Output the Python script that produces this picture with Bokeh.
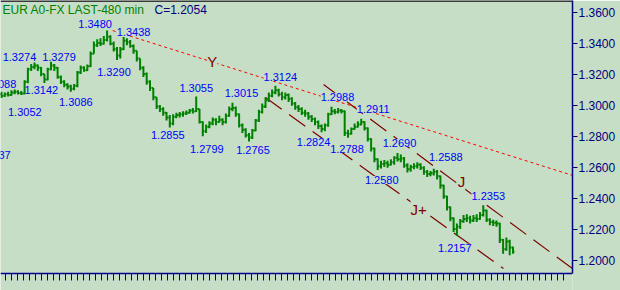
import numpy as np
from bokeh.plotting import figure
from bokeh.models import Range1d, FixedTicker, PrintfTickFormatter, ColumnDataSource, Span
from bokeh.core.properties import value
from bokeh.embed import file_html
from bokeh.resources import INLINE

# ---------------- data ----------------
openp = [1.3070, 1.3060, 1.3070, 1.3065, 1.3080, 1.3085, 1.3078, 1.3075, 1.3150, 1.3230,
         1.3245, 1.3255, 1.3240, 1.3200, 1.3165, 1.3230, 1.3255, 1.3240, 1.3180, 1.3150,
         1.3130, 1.3120, 1.3105, 1.3125, 1.3210, 1.3240, 1.3225, 1.3250, 1.3330, 1.3385,
         1.3400, 1.3395, 1.3420, 1.3440, 1.3395, 1.3360, 1.3320, 1.3360, 1.3415, 1.3405,
         1.3380, 1.3350, 1.3300, 1.3240, 1.3200, 1.3150, 1.3110, 1.3050, 1.2990, 1.2975,
         1.2950, 1.2920, 1.2880, 1.2925, 1.2935, 1.2940, 1.2945, 1.2950, 1.2965, 1.2960,
         1.2975, 1.2890, 1.2830, 1.2860, 1.2880, 1.2905, 1.2890, 1.2905, 1.2890, 1.2930,
         1.2975, 1.2980, 1.2940, 1.2870, 1.2840, 1.2805, 1.2790, 1.2835, 1.2900, 1.2955,
         1.2990, 1.3030, 1.3060, 1.3080, 1.3095, 1.3070, 1.3050, 1.3065, 1.3040, 1.3010,
         1.2985, 1.2975, 1.2950, 1.2945, 1.2925, 1.2910, 1.2890, 1.2865, 1.2845, 1.2870,
         1.2940, 1.2960, 1.2955, 1.2965, 1.2960, 1.2820, 1.2815, 1.2845, 1.2860, 1.2875,
         1.2890, 1.2850, 1.2780, 1.2720, 1.2650, 1.2605, 1.2620, 1.2625, 1.2615, 1.2630,
         1.2660, 1.2650, 1.2655, 1.2610, 1.2585, 1.2600, 1.2605, 1.2615, 1.2595, 1.2570,
         1.2555, 1.2560, 1.2570, 1.2540, 1.2480, 1.2410, 1.2340, 1.2270, 1.2200, 1.2215,
         1.2250, 1.2265, 1.2270, 1.2255, 1.2270, 1.2265, 1.2290, 1.2320, 1.2260, 1.2245,
         1.2240, 1.2235, 1.2130, 1.2070, 1.2120, 1.2080]
high = [1.3085, 1.3080, 1.3085, 1.3095, 1.3100, 1.3095, 1.3090, 1.3160, 1.3240, 1.3265,
        1.3274, 1.3262, 1.3245, 1.3200, 1.3240, 1.3279, 1.3265, 1.3245, 1.3190, 1.3160,
        1.3140, 1.3130, 1.3135, 1.3220, 1.3255, 1.3250, 1.3262, 1.3345, 1.3410, 1.3425,
        1.3430, 1.3445, 1.3480, 1.3450, 1.3410, 1.3375, 1.3375, 1.3438, 1.3430, 1.3420,
        1.3390, 1.3350, 1.3300, 1.3250, 1.3210, 1.3160, 1.3110, 1.3050, 1.3000, 1.2985,
        1.2955, 1.2935, 1.2940, 1.2950, 1.2955, 1.2960, 1.2965, 1.2975, 1.2980, 1.3055,
        1.2975, 1.2895, 1.2875, 1.2895, 1.2920, 1.2915, 1.2930, 1.2915, 1.2945, 1.2990,
        1.3015, 1.2990, 1.2945, 1.2880, 1.2850, 1.2820, 1.2845, 1.2910, 1.2970, 1.3010,
        1.3050, 1.3080, 1.3100, 1.3124, 1.3105, 1.3085, 1.3080, 1.3075, 1.3050, 1.3020,
        1.3000, 1.2985, 1.2970, 1.2955, 1.2935, 1.2920, 1.2900, 1.2875, 1.2880, 1.2950,
        1.2988, 1.2975, 1.2980, 1.2975, 1.2965, 1.2840, 1.2855, 1.2880, 1.2895, 1.2911,
        1.2895, 1.2855, 1.2785, 1.2725, 1.2655, 1.2640, 1.2645, 1.2640, 1.2650, 1.2670,
        1.2690, 1.2680, 1.2665, 1.2625, 1.2615, 1.2625, 1.2630, 1.2625, 1.2605, 1.2580,
        1.2575, 1.2588, 1.2580, 1.2545, 1.2485, 1.2415, 1.2345, 1.2275, 1.2235, 1.2265,
        1.2290, 1.2295, 1.2285, 1.2290, 1.2295, 1.2310, 1.2353, 1.2325, 1.2270, 1.2260,
        1.2255, 1.2240, 1.2135, 1.2145, 1.2130, 1.2085]
low = [1.3045, 1.3052, 1.3055, 1.3060, 1.3070, 1.3068, 1.3065, 1.3070, 1.3140, 1.3220,
       1.3230, 1.3220, 1.3185, 1.3142, 1.3160, 1.3225, 1.3220, 1.3170, 1.3135, 1.3115,
       1.3100, 1.3086, 1.3095, 1.3115, 1.3200, 1.3215, 1.3220, 1.3245, 1.3330, 1.3375,
       1.3380, 1.3390, 1.3410, 1.3385, 1.3345, 1.3290, 1.3300, 1.3355, 1.3385, 1.3370,
       1.3330, 1.3280, 1.3225, 1.3180, 1.3130, 1.3090, 1.3030, 1.2975, 1.2955, 1.2930,
       1.2900, 1.2855, 1.2870, 1.2915, 1.2920, 1.2925, 1.2935, 1.2945, 1.2945, 1.2955,
       1.2880, 1.2799, 1.2820, 1.2850, 1.2870, 1.2870, 1.2885, 1.2870, 1.2880, 1.2925,
       1.2960, 1.2925, 1.2855, 1.2820, 1.2790, 1.2765, 1.2780, 1.2830, 1.2890, 1.2945,
       1.2980, 1.3020, 1.3050, 1.3070, 1.3055, 1.3030, 1.3035, 1.3020, 1.2995, 1.2970,
       1.2955, 1.2935, 1.2925, 1.2905, 1.2890, 1.2870, 1.2845, 1.2824, 1.2830, 1.2860,
       1.2935, 1.2940, 1.2945, 1.2945, 1.2800, 1.2788, 1.2810, 1.2840, 1.2855, 1.2870,
       1.2835, 1.2765, 1.2700, 1.2630, 1.2580, 1.2590, 1.2600, 1.2595, 1.2610, 1.2615,
       1.2635, 1.2630, 1.2595, 1.2565, 1.2570, 1.2585, 1.2590, 1.2580, 1.2550, 1.2535,
       1.2540, 1.2545, 1.2520, 1.2460, 1.2395, 1.2320, 1.2250, 1.2180, 1.2157, 1.2200,
       1.2240, 1.2245, 1.2235, 1.2245, 1.2245, 1.2260, 1.2280, 1.2245, 1.2225, 1.2220,
       1.2215, 1.2110, 1.2040, 1.2060, 1.2030, 1.2040]
close = [1.3060, 1.3070, 1.3065, 1.3080, 1.3085, 1.3078, 1.3075, 1.3150, 1.3230, 1.3245,
         1.3255, 1.3240, 1.3200, 1.3165, 1.3230, 1.3255, 1.3240, 1.3180, 1.3150, 1.3130,
         1.3120, 1.3105, 1.3125, 1.3210, 1.3240, 1.3225, 1.3250, 1.3330, 1.3385, 1.3400,
         1.3395, 1.3420, 1.3440, 1.3395, 1.3360, 1.3320, 1.3360, 1.3415, 1.3405, 1.3380,
         1.3350, 1.3300, 1.3240, 1.3200, 1.3150, 1.3110, 1.3050, 1.2990, 1.2975, 1.2950,
         1.2920, 1.2880, 1.2925, 1.2935, 1.2940, 1.2945, 1.2950, 1.2965, 1.2960, 1.2975,
         1.2890, 1.2830, 1.2860, 1.2880, 1.2905, 1.2890, 1.2905, 1.2890, 1.2930, 1.2975,
         1.2980, 1.2940, 1.2870, 1.2840, 1.2805, 1.2790, 1.2835, 1.2900, 1.2955, 1.2990,
         1.3030, 1.3060, 1.3080, 1.3095, 1.3070, 1.3050, 1.3065, 1.3040, 1.3010, 1.2985,
         1.2975, 1.2950, 1.2945, 1.2925, 1.2910, 1.2890, 1.2865, 1.2845, 1.2870, 1.2940,
         1.2960, 1.2955, 1.2965, 1.2960, 1.2820, 1.2815, 1.2845, 1.2860, 1.2875, 1.2890,
         1.2850, 1.2780, 1.2720, 1.2650, 1.2605, 1.2620, 1.2625, 1.2615, 1.2630, 1.2660,
         1.2650, 1.2655, 1.2610, 1.2585, 1.2600, 1.2605, 1.2615, 1.2595, 1.2570, 1.2555,
         1.2560, 1.2570, 1.2540, 1.2480, 1.2410, 1.2340, 1.2270, 1.2200, 1.2215, 1.2250,
         1.2265, 1.2270, 1.2255, 1.2270, 1.2265, 1.2290, 1.2320, 1.2260, 1.2245, 1.2240,
         1.2235, 1.2130, 1.2070, 1.2120, 1.2080, 1.2054]

# swing-point annotations (bar index, price)
swing_bar = [32, 37, 10, 15, 35, 13, 21, 1, 59, 51, 61, 75, 70, 83, 97, 100, 105, 109,
             114, 120, 131, 146, 138, -0.6, -2.3]
swing_price = [1.3480, 1.3438, 1.3274, 1.3279, 1.3290, 1.3142, 1.3086, 1.3052, 1.3055,
               1.2855, 1.2799, 1.2765, 1.3015, 1.3124, 1.2824, 1.2988, 1.2788, 1.2911,
               1.2580, 1.2690, 1.2588, 1.2353, 1.2157, 1.3088, 1.2737]

# trend lines (bar index, price)
y_line_bar, y_line_price = [33.7, 173.0], [1.3480, 1.2546]
j_upper_bar, j_upper_price = [97.6, 173.0], [1.3132, 1.1945]
j_lower_bar, j_lower_price = [80.0, 152.1], [1.3048, 1.1945]
wave_text = ["Y", "J", "J+"]

price_ticks = [1.20, 1.22, 1.24, 1.26, 1.28, 1.30, 1.32, 1.34, 1.36]
title_left = "EUR A0-FX LAST-480 min"
title_right = "C=1.2054"

# ---------------- layout / style ----------------
BG = "#c5dec5"
GREEN = "#008000"
NAVY = "#000080"
FONT = value("Liberation Sans")
FW, FH = 572, 290
PXB = 3.3                      # pixels per bar
PPU = 1550.0                   # pixels per price unit
x_start = -1 / PXB
x_end = x_start + FW / PXB
y_top = 1.36 + 11.5 / PPU
y_axis_bottom = 1.20 - 13.5 / PPU   # level of the time axis line
y_tick_end = y_axis_bottom - 7 / PPU
y_bottom = y_top - FH / PPU

# label offsets in pixels (style)
label_dx = [-12, 10, -15, 8, -3, -3, 5, 20, 0, -2, 4, 4, 9, 5, -8, 6, -1, 12, 4, 2, 12, 5, -2, 0, 0]
label_dy = [-7, -5, -6, -5, 12, 7, 10, 15, -8, 8, 13, 9, -10, -9, 10, -10, 11, -10, 10, -10, -12, -9, 12, -7, 9]

p = figure(frame_width=FW, frame_height=FH,
           x_range=Range1d(x_start, x_end), y_range=Range1d(y_bottom, y_top),
           output_backend="svg", toolbar_location=None,
           x_axis_location=None, y_axis_location="right",
           min_border_left=0, min_border_top=0, min_border_right=48, min_border_bottom=0,
           background_fill_color=BG, border_fill_color=BG, outline_line_color=None)
p.grid.visible = False

ya = p.yaxis[0]
ya.bounds = (y_axis_bottom, y_top)
ya.ticker = FixedTicker(ticks=price_ticks)
ya.formatter = PrintfTickFormatter(format="%.4f")
ya.axis_line_color = NAVY
ya.axis_line_width = 1.5
ya.major_tick_line_color = NAVY
ya.major_tick_out = 5
ya.major_tick_in = 0
ya.minor_tick_line_color = None
ya.major_label_text_color = NAVY
ya.major_label_text_font = "Liberation Sans"
ya.major_label_text_font_size = "12px"
ya.major_label_standoff = 1

# time axis: line plus unlabeled tick marks
p.add_layout(Span(location=y_axis_bottom, dimension="width", line_color=NAVY, line_width=1.5))
tick_x = np.array([(4 + 6 * k) / PXB for k in range(94)])
p.segment(x0=tick_x, y0=y_axis_bottom, x1=tick_x, y1=y_tick_end, line_color=NAVY, line_width=1)

p.add_layout(Span(location=y_top, dimension="width", line_color="#3a3a3a", line_width=3))

# trend lines
p.line(y_line_bar, y_line_price, line_color="#ff0000", line_width=1, line_dash="3 3")
p.line(j_upper_bar, j_upper_price, line_color="#800000", line_width=1.2, line_dash="20 9")
p.line(j_lower_bar, j_lower_price, line_color="#800000", line_width=1.2, line_dash="20 9")

# wave labels on the lines
wx = [63.9, 139.4, 126.4]
wy = [float(np.interp(wx[0], y_line_bar, y_line_price)),
      float(np.interp(wx[1], j_upper_bar, j_upper_price)),
      float(np.interp(wx[2], j_lower_bar, j_lower_price))]
p.text(x=wx, y=wy, text=wave_text, y_offset=[0, -5, 2],
       text_font=FONT, text_font_size="15px", text_color="#800000",
       text_align="center", text_baseline="middle",
       background_fill_color=BG)

# swing labels
src = ColumnDataSource(dict(x=swing_bar, y=swing_price,
                            text=["%.4f" % v for v in swing_price],
                            dx=label_dx, dy=label_dy))
p.text(x="x", y="y", text="text", x_offset="dx", y_offset="dy", source=src,
       text_font=FONT, text_font_size="11px", text_color="#0000ff",
       text_align="center", text_baseline="middle",
       background_fill_color=BG)

# OHLC bars
bar = np.arange(len(close), dtype=float)
p.segment(x0=bar, y0=low, x1=bar, y1=high, line_color=GREEN, line_width=2)
p.segment(x0=bar - 0.45, y0=openp, x1=bar, y1=openp, line_color=GREEN, line_width=2)
p.segment(x0=bar, y0=close, x1=bar + 0.45, y1=close, line_color=GREEN, line_width=2)

# header texts
ty = y_top - 9.5 / PPU
p.text(x=[x_start + 2 / PXB], y=[ty], text=[title_left], text_font=FONT,
       text_font_size="12px", text_color=GREEN, text_baseline="middle")
p.text(x=[x_start + 154 / PXB], y=[ty], text=[title_right], text_font=FONT,
       text_font_size="12px", text_color=NAVY, text_baseline="middle")

open("out.html", "w").write(file_html(p, INLINE))
